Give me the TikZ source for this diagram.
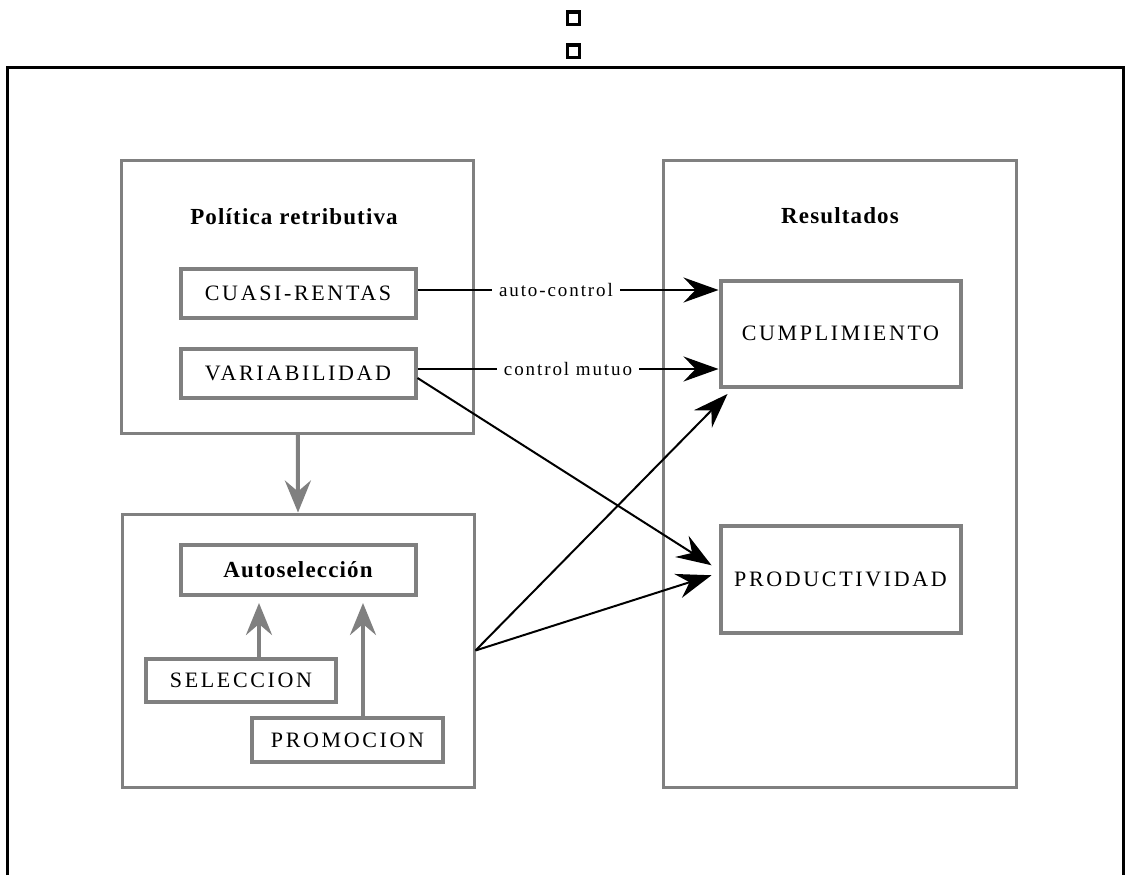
\documentclass[tikz,border=0pt]{standalone}
\usepackage{fontspec}
\setmainfont{Liberation Serif}
\newfontfamily\capsfont[LetterSpace=12]{Liberation Serif}
\newfontfamily\smallfont[LetterSpace=10]{Liberation Serif}
\newfontfamily\headfont[LetterSpace=5]{Liberation Serif}
\usetikzlibrary{arrows.meta}

\begin{document}
\begin{tikzpicture}[x=1pt,y=-1pt,
    bigbox/.style={draw=gray,line width=3pt,minimum width=352pt,minimum height=273pt},
    capsbox/.style={draw=gray,line width=4pt,inner sep=0pt,font=\capsfont\fontsize{22}{26}\selectfont},
    headtext/.style={font=\headfont\bfseries\fontsize{23}{27}\selectfont},
    grayarrow/.style={draw=gray,line width=4pt,-{Stealth[length=32pt,width=26pt,inset=11pt]}},
    blackarrow/.style={line width=2pt,-{Stealth[length=35pt,width=25pt,inset=12pt]}},
    arrowlabel/.style={fill=white,inner xsep=7pt,inner ysep=2pt,font=\smallfont\fontsize{19}{22}\selectfont}]
    \useasboundingbox (0,0) rectangle (1126,875);
    % frame and the two little boxes above it
    \draw[line width=3pt] (7.5,875) -- (7.5,67.5) -- (1123.5,67.5) -- (1123.5,875);
    \draw[line width=3.8pt] (567.5,12) rectangle (579.5,24.5);
    \draw[line width=3.8pt] (567.5,45) rectangle (579.5,57.5);
    % big boxes
    \node[bigbox] (politica) at (297.75,296.5) {};
    \node[bigbox] (autosel) at (298,650.5) {};
    \node[bigbox,minimum width=353pt,minimum height=627pt] (resultados) at (839.5,473.5) {};
    \node[headtext] (politicatitle) at (294,217) {Política retributiva};
    \node[headtext] (resultadostitle) at (840,216) {Resultados};
    % inner boxes
    \node[capsbox,minimum width=235pt,minimum height=49.5pt] (cuasi) at (298,293.5) {CUASI-RENTAS};
    \node[capsbox,minimum width=235pt,minimum height=49.5pt] (varia) at (298,373.5) {VARIABILIDAD};
    \node[capsbox,headtext,minimum width=235pt,minimum height=50pt] (autoseleccion) at (298,569.5) {Autoselección};
    \node[capsbox,minimum width=190pt,minimum height=43pt] (seleccion) at (241,680.5) {SELECCION};
    \node[capsbox,minimum width=191pt,minimum height=44pt] (promocion) at (347.5,740.4) {PROMOCION};
    \node[capsbox,minimum width=240pt,minimum height=106.5pt] (cumpl) at (840.5,333.75) {CUMPLIMIENTO};
    \node[capsbox,minimum width=240pt,minimum height=106.5pt] (product) at (840.5,579.25) {PRODUCTIVIDAD};
    % gray arrows
    \draw[grayarrow] (politica.south) -- (autosel.north);
    \draw[grayarrow,shorten >=6.5pt] ([xshift=18pt]seleccion.north) -- ([xshift=18pt]seleccion.north |- autoseleccion.south);
    \draw[grayarrow,shorten >=6.5pt] ([xshift=15.5pt]promocion.north) -- ([xshift=15.5pt]promocion.north |- autoseleccion.south);
    % black arrows
    \draw[blackarrow] ([yshift=3.5pt]cuasi.east) -- ([yshift=3.5pt]cuasi.east -| cumpl.west)
        node[arrowlabel,pos=0.46] (autocontrol) {auto-control};
    \draw[blackarrow] ([yshift=4.5pt]varia.east) -- ([yshift=4.5pt]varia.east -| cumpl.west)
        node[arrowlabel,pos=0.5] (mutuo) {control mutuo};
    \draw[blackarrow] ([yshift=-4.5pt]varia.east) -- ([xshift=-7pt,yshift=14pt]product.west);
    \draw[blackarrow] (autosel.east) -- ([xshift=9pt,yshift=-5pt]cumpl.south west);
    \draw[blackarrow] (autosel.east) -- ([xshift=-7pt,yshift=4pt]product.west);
\end{tikzpicture}
\end{document}
